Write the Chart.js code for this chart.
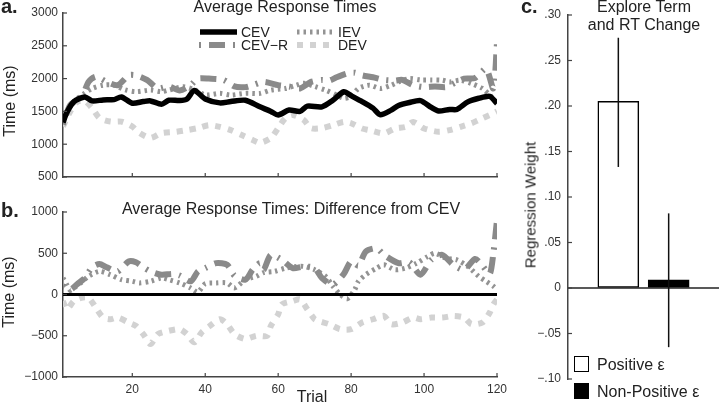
<!DOCTYPE html>
<html>
<head>
<meta charset="utf-8">
<script src="https://cdnjs.cloudflare.com/ajax/libs/Chart.js/4.4.1/chart.umd.min.js"></script>
<style>
  html, body { margin: 0; padding: 0; background: #fff; }
  #fig { position: relative; width: 720px; height: 404px; overflow: hidden;
         font-family: "Liberation Sans", Arial, sans-serif; color: #222; }
  #fig canvas { position: absolute; }
  .txt { position: absolute; white-space: nowrap; line-height: 1; }
  .panel { font-weight: bold; font-size: 20px; }
  .title { font-size: 16px; transform: translateX(-50%); }
  .ylab  { font-size: 16px; transform: translate(-50%, -50%) rotate(-90deg); }
  .ctitle { font-size: 16px; transform: translateX(-50%); }
  .key { position: absolute; left: 574px; width: 13px; height: 14px; border: 1.5px solid #000; }
  .keytxt { font-size: 16px; left: 597px; }
</style>
</head>
<body>
<div id="fig">
  <canvas id="chart-a" width="520" height="190" style="left:0;top:0"></canvas>
  <canvas id="chart-b" width="520" height="214" style="left:0;top:190px"></canvas>
  <canvas id="chart-c" width="200" height="404" style="left:520px;top:0"></canvas>

  <div class="txt panel" style="left:1px;top:-4px">a.</div>
  <div class="txt panel" style="left:1px;top:200px">b.</div>
  <div class="txt panel" style="left:521px;top:-4px">c.</div>

  <div class="txt title" style="left:285px;top:-1px">Average Response Times</div>
  <div class="txt title" style="left:291px;top:201px">Average Response Times: Difference from CEV</div>
  <div class="txt ylab" style="left:10px;top:101px">Time (ms)</div>
  <div class="txt ylab" style="left:9px;top:292px">Time (ms)</div>
  <div class="txt" style="left:312px;top:389px;font-size:16px;transform:translateX(-50%)">Trial</div>

  <div class="txt ctitle" style="left:644px;top:-1px">Explore Term</div>
  <div class="txt ctitle" style="left:644px;top:17px">and RT Change</div>
  <div class="txt ylab" style="left:530px;top:205px;font-size:15px">Regression Weight</div>
  <div id="c-legend"></div>
</div>

<script>
// ─── Data ─────────────────────────────────────────────────────────────────────
const trialTicks = [20, 40, 60, 80, 100, 120];
const timeTicksA = [500, 1000, 1500, 2000, 2500, 3000];
const timeTicksB = [-1000, -500, 0, 500, 1000];

// Panel a: average response times (ms)
const cevTrials = [1, 2, 4, 7, 9, 12, 15, 17, 20, 23, 25, 28, 30, 33, 35, 37, 40, 44, 47, 51, 55, 58, 60, 63, 66, 68,
                   72, 75, 78, 80, 83, 86, 88, 91, 93, 96, 99, 102, 104, 107, 109, 112, 115, 118, 120];
const cevTimes  = [1330, 1480, 1650, 1720, 1660, 1675, 1680, 1720, 1625, 1650, 1660, 1610, 1670, 1665, 1690, 1820,
                   1690, 1630, 1650, 1670, 1570, 1500, 1445, 1520, 1500, 1580, 1570, 1670, 1800, 1740, 1650, 1550,
                   1450, 1520, 1590, 1635, 1665, 1560, 1505, 1530, 1530, 1645, 1700, 1730, 1620];

const ievTrials = [1, 2, 4, 7, 9, 12, 15, 18, 21, 25, 28, 30, 34, 37, 40, 44, 47, 51, 55, 58, 62, 65, 67, 70, 73, 76,
                   78, 80, 82, 85, 88, 91, 93, 96, 99, 102, 105, 107, 110, 113, 116, 118, 120];
const ievTimes  = [1380, 1500, 1650, 1780, 1850, 1900, 1900, 1830, 1800, 1825, 1800, 1825, 1875, 1830, 1750, 1775,
                   1750, 1775, 1775, 1825, 1850, 1900, 1930, 1880, 1825, 1750, 1700, 1730, 1850, 1900, 1850, 1900,
                   1950, 2000, 1980, 1980, 1975, 1950, 1975, 1925, 1850, 1750, 1620];

const cevrTrials = [1, 3, 6, 8, 10, 13, 16, 19, 21, 24, 27, 30, 33, 36, 38, 41, 45, 48, 51, 53, 56, 60, 63, 66, 69,
                    72, 74, 76, 79, 81, 83, 86, 89, 92, 94, 97, 100, 103, 106, 109, 111, 114, 117, 119, 120];
const cevrTimes  = [1300, 1600, 1700, 1950, 2030, 1950, 1900, 2050, 2050, 1980, 1850, 1880, 1820, 1900, 2000, 2000,
                    1980, 1880, 1870, 1900, 1950, 1900, 1880, 1850, 1950, 1980, 1970, 2020, 2080, 2090, 2050, 2020,
                    1980, 1970, 1980, 1900, 1870, 1880, 1870, 1950, 2000, 2010, 2150, 1850, 2550];

const devTrials = [1, 3, 5, 7, 9, 11, 14, 17, 20, 22, 25, 28, 32, 35, 38, 41, 44, 47, 50, 53, 55, 58, 60, 62, 64, 67,
                   69, 72, 75, 78, 80, 83, 85, 89, 92, 95, 97, 100, 104, 107, 110, 113, 115, 118, 120];
const devTimes  = [1270, 1500, 1650, 1660, 1550, 1400, 1345, 1345, 1270, 1170, 1095, 1170, 1190, 1215, 1245, 1290,
                   1265, 1215, 1140, 1065, 1020, 1095, 1245, 1400, 1445, 1370, 1245, 1245, 1290, 1340, 1320, 1240,
                   1215, 1165, 1240, 1265, 1340, 1240, 1190, 1215, 1265, 1320, 1370, 1445, 1500];

// Panel b: difference from CEV (ms)
const cevDiffTrials = [1, 120];
const cevDiff       = [0, 0];

const ievDiffTrials = [1, 2, 3, 4, 6, 8, 11, 14, 17, 20, 22, 25, 28, 30, 33, 36, 38, 40, 43, 46, 48, 51, 54, 56, 59,
                       62, 65, 67, 70, 73, 75, 77, 79, 81, 82, 84, 87, 89, 92, 95, 98, 101, 103, 106, 109, 112, 115,
                       117, 119, 120];
const ievDiff       = [200, 120, 50, 80, 145, 220, 280, 240, 180, 160, 140, 160, 200, 180, 140, 80, 30, 130, 140, 140,
                       80, 180, 220, 265, 280, 320, 340, 340, 300, 220, 100, 0, -50, 60, 160, 240, 320, 360, 300, 320,
                       380, 460, 500, 440, 420, 340, 220, 160, 100, 60];

const cevrDiffTrials = [1, 3, 5, 7, 9, 11, 13, 16, 19, 21, 23, 25, 28, 31, 33, 36, 38, 40, 43, 46, 48, 51, 53, 55, 56,
                        58, 61, 64, 67, 70, 72, 75, 78, 80, 82, 84, 87, 89, 93, 96, 99, 102, 105, 108, 111, 114, 116,
                        118, 119, 120];
const cevrDiff       = [100, 60, 130, 200, 330, 370, 330, 280, 400, 390, 330, 280, 240, 250, 230, 160, 280, 320, 380,
                        360, 230, 180, 300, 380, 300, 480, 420, 320, 340, 320, 200, 120, 250, 400, 350, 520, 560, 480,
                        380, 390, 240, 420, 480, 360, 300, 430, 350, 250, 500, 900];

const devDiffTrials = [1, 2, 4, 6, 8, 10, 12, 14, 16, 19, 21, 23, 25, 27, 30, 33, 35, 37, 39, 41, 44, 46, 48, 51, 54,
                       57, 58, 60, 61, 64, 66, 68, 70, 71, 74, 77, 80, 83, 86, 89, 91, 94, 97, 99, 102, 105, 108, 111,
                       113, 116, 118, 119, 120];
const devDiff       = [-80, -180, -80, -40, -40, -160, -280, -300, -280, -340, -380, -480, -600, -480, -440, -420,
                       -480, -580, -460, -390, -300, -360, -480, -540, -500, -500, -380, -240, -120, -80, -60, -180,
                       -300, -320, -360, -420, -420, -340, -300, -260, -360, -340, -280, -300, -280, -280, -260, -280,
                       -360, -340, -220, -120, -60];

// Panel c: explore term and RT change
const cCategories = ['Positive ε', 'Non-Positive ε'];
const cPositions  = [1, 2];
const cWeights    = [0.205, 0.009];
const cErrLow     = [0.133, -0.065];
const cErrHigh    = [0.275, 0.082];
const cTicks      = [-0.10, -0.05, 0, 0.05, 0.10, 0.15, 0.20, 0.25, 0.30];

// ─── Shared styling ───────────────────────────────────────────────────────────
const FONT = '"Liberation Sans", Arial, sans-serif';
const AXIS = '#444';
const pts = (xs, ys) => xs.map((x, i) => ({ x, y: ys[i] }));
const minus = v => (v < 0 ? '\u2212' + Math.abs(v) : String(v));

const SERIES = {
  cev:  { label: 'CEV',   borderColor: '#000',    borderWidth: 5.5, borderDash: [] },
  iev:  { label: 'IEV',   borderColor: '#939393', borderWidth: 5, borderDash: [2.5, 4] },
  cevr: { label: 'CEV\u2212R', borderColor: '#8a8a8a', borderWidth: 6, borderDash: [2, 8, 16, 8] },
  dev:  { label: 'DEV',   borderColor: '#d2d2d2', borderWidth: 6, borderDash: [6, 7] },
};

function lineSet(key, data) {
  return {
    ...SERIES[key],
    data,
    fill: false,
    pointRadius: 0,
    tension: 0.25,
    borderCapStyle: 'butt',
  };
}

// ticks pointing into the plot, MATLAB style
const inwardTicks = {
  id: 'inwardTicks',
  afterDraw(chart, args, opts) {
    const ctx = chart.ctx;
    const { left, bottom } = chart.chartArea;
    ctx.save();
    ctx.strokeStyle = AXIS;
    ctx.lineWidth = 1.2;
    (opts.axes || []).forEach(id => {
      const s = chart.scales[id];
      s.ticks.forEach(t => {
        const p = s.getPixelForValue(t.value);
        ctx.beginPath();
        if (s.isHorizontal()) { ctx.moveTo(p, bottom); ctx.lineTo(p, bottom - 4); }
        else { ctx.moveTo(left, p); ctx.lineTo(left + 4, p); }
        ctx.stroke();
      });
    });
    ctx.restore();
  },
};

// two-column legend inside panel a
const seriesLegend = {
  id: 'seriesLegend',
  afterDraw(chart, args, opts) {
    if (!opts.items) return;
    const ctx = chart.ctx;
    ctx.save();
    ctx.font = `14px ${FONT}`;
    ctx.fillStyle = '#222';
    ctx.textBaseline = 'middle';
    opts.items.forEach(it => {
      const st = SERIES[it.key];
      ctx.strokeStyle = st.borderColor;
      ctx.lineWidth = st.borderWidth;
      ctx.lineCap = 'butt';
      ctx.setLineDash(st.borderDash);
      ctx.beginPath();
      ctx.moveTo(it.x0, it.y);
      ctx.lineTo(it.x1, it.y);
      ctx.stroke();
      ctx.setLineDash([]);
      ctx.fillText(st.label, it.x1 + 4, it.y + 1);
    });
    ctx.restore();
  },
};

function timeScales(yTicks, yMin, yMax, showX, xHeight) {
  return {
    x: {
      type: 'linear', min: 1, max: 120,
      afterBuildTicks: s => { s.ticks = trialTicks.map(v => ({ value: v })); },
      afterFit: s => { s.height = xHeight; },
      grid: { drawOnChartArea: false, drawTicks: false },
      border: { color: AXIS, width: 1.5 },
      ticks: { display: showX, padding: 5, color: '#333', font: { family: FONT, size: 12 } },
    },
    y: {
      min: yMin, max: yMax,
      afterBuildTicks: s => { s.ticks = yTicks.map(v => ({ value: v })); },
      afterFit: s => { s.width = 63; },
      grid: { drawOnChartArea: false, drawTicks: false },
      border: { color: AXIS, width: 1.5 },
      ticks: { padding: 5, color: '#333', font: { family: FONT, size: 12 }, callback: v => minus(v) },
    },
  };
}

// ─── Panel a ──────────────────────────────────────────────────────────────────
new Chart(document.getElementById('chart-a'), {
  type: 'line',
  data: {
    datasets: [
      lineSet('cev',  pts(cevTrials, cevTimes)),
      lineSet('cevr', pts(cevrTrials, cevrTimes)),
      lineSet('iev',  pts(ievTrials, ievTimes)),
      lineSet('dev',  pts(devTrials, devTimes)),
    ],
  },
  options: {
    responsive: false,
    devicePixelRatio: 1,
    animation: false,
    layout: { padding: { left: 0, top: 13, right: 23, bottom: 0 } },
    plugins: {
      legend: { display: false },
      tooltip: { enabled: false },
      inwardTicks: { axes: ['x', 'y'] },
      seriesLegend: {
        items: [
          { key: 'cev',  x0: 200, x1: 237, y: 32 },
          { key: 'iev',  x0: 297, x1: 334, y: 32 },
          { key: 'cevr', x0: 199, x1: 237, y: 45 },
          { key: 'dev',  x0: 297, x1: 334, y: 45 },
        ],
      },
    },
    scales: timeScales(timeTicksA, 500, 3000, false, 13),
  },
  plugins: [inwardTicks, seriesLegend],
});

// ─── Panel b ──────────────────────────────────────────────────────────────────
new Chart(document.getElementById('chart-b'), {
  type: 'line',
  data: {
    datasets: [
      { ...lineSet('cev', pts(cevDiffTrials, cevDiff)), borderWidth: 3, tension: 0 },
      lineSet('cevr', pts(cevrDiffTrials, cevrDiff)),
      lineSet('iev',  pts(ievDiffTrials, ievDiff)),
      lineSet('dev',  pts(devDiffTrials, devDiff)),
    ],
  },
  options: {
    responsive: false,
    devicePixelRatio: 1,
    animation: false,
    layout: { padding: { left: 0, top: 22, right: 23, bottom: 0 } },
    plugins: {
      legend: { display: false },
      tooltip: { enabled: false },
      inwardTicks: { axes: ['x', 'y'] },
    },
    scales: timeScales(timeTicksB, -1000, 1000, true, 27),
  },
  plugins: [inwardTicks],
});

// ─── Panel c ──────────────────────────────────────────────────────────────────
// zero line plus the error bars, drawn over the bars
const errorBars = {
  id: 'errorBars',
  afterDatasetsDraw(chart) {
    const ctx = chart.ctx;
    const y = chart.scales.y;
    const { left, right } = chart.chartArea;
    const bars = chart.getDatasetMeta(0).data;
    ctx.save();
    ctx.strokeStyle = '#222';
    ctx.lineWidth = 1.5;
    const y0 = y.getPixelForValue(0);
    ctx.beginPath();
    ctx.moveTo(left, y0);
    ctx.lineTo(right, y0);
    ctx.stroke();
    ctx.strokeStyle = '#111';
    bars.forEach((bar, i) => {
      ctx.beginPath();
      ctx.moveTo(bar.x, y.getPixelForValue(cErrLow[i]));
      ctx.lineTo(bar.x, y.getPixelForValue(cErrHigh[i]));
      ctx.stroke();
    });
    ctx.restore();
  },
};

const fmtWeight = v => {
  if (Math.abs(v) < 1e-9) return '0';
  const s = '.' + String(Math.round(Math.abs(v) * 100)).padStart(2, '0');
  return v < 0 ? '\u2212' + s : s;
};

new Chart(document.getElementById('chart-c'), {
  type: 'bar',
  data: {
    datasets: [{
      data: pts(cPositions, cWeights),
      backgroundColor: ['#fff', '#000'],
      borderColor: '#000',
      borderWidth: 1.5,
      borderSkipped: false,
      barThickness: 41,
    }],
  },
  options: {
    responsive: false,
    devicePixelRatio: 1,
    animation: false,
    layout: { padding: { left: 0, top: 15, right: 1, bottom: 25 } },
    plugins: {
      legend: { display: false },
      tooltip: { enabled: false },
      inwardTicks: { axes: ['y'] },
    },
    scales: {
      x: { type: 'linear', min: 0, max: 3, offset: false, display: false },
      y: {
        min: -0.1, max: 0.3,
        afterBuildTicks: s => { s.ticks = cTicks.map(v => ({ value: v })); },
        afterFit: s => { s.width = 48; },
        grid: { drawOnChartArea: false, drawTicks: false },
        border: { color: AXIS, width: 1.5 },
        ticks: { padding: 7, color: '#333', font: { family: FONT, size: 12 }, callback: fmtWeight },
      },
    },
  },
  plugins: [inwardTicks, errorBars],
});

// legend for panel c
const legendC = document.getElementById('c-legend');
const keyFills = ['#fff', '#000'];
const keyTops = [356, 383];
cCategories.forEach((name, i) => {
  const box = document.createElement('div');
  box.className = 'key';
  box.style.top = keyTops[i] + 'px';
  box.style.background = keyFills[i];
  legendC.appendChild(box);
  const label = document.createElement('div');
  label.className = 'txt keytxt';
  label.style.top = (keyTops[i] + 1) + 'px';
  label.textContent = name;
  legendC.appendChild(label);
});
</script>
</body>
</html>
